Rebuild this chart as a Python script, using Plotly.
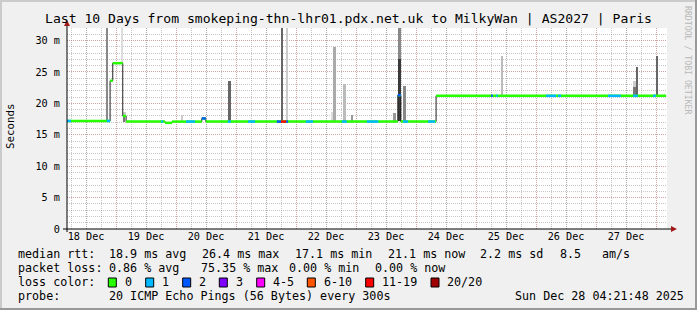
import plotly.graph_objects as go
import pandas as pd

# ---------------- data ----------------
t_start = "2025-12-18 04:21:48"
t_end = "2025-12-28 04:21:48"

# median rtt (ms) as step breakpoints
med_times = ["2025-12-18 04:22", "2025-12-18 21:36", "2025-12-18 22:40", "2025-12-19 02:40",
             "2025-12-19 04:00", "2025-12-19 19:36", "2025-12-19 22:24", "2025-12-20 10:17",
             "2025-12-20 11:53", "2025-12-23 16:41", "2025-12-23 17:53", "2025-12-24 08:00"]
med_values = [17.2, 23.6, 26.4, 18.0, 17.1, 16.9, 17.1, 17.6, 17.1, 21.3, 17.1, 21.2]
med_last = "2025-12-28 04:00"

# packet loss periods (loss class index into loss_names); everything else is 0
loss_start = ["2025-12-18 04:22", "2025-12-18 20:17", "2025-12-19 18:00", "2025-12-20 04:00",
              "2025-12-20 10:17", "2025-12-20 20:41", "2025-12-21 04:48", "2025-12-21 16:17",
              "2025-12-21 18:00", "2025-12-21 20:00", "2025-12-22 03:53", "2025-12-22 18:17",
              "2025-12-23 04:17", "2025-12-23 16:41", "2025-12-23 18:48", "2025-12-24 04:48",
              "2025-12-25 06:00", "2025-12-25 08:00", "2025-12-26 04:00", "2025-12-26 08:48",
              "2025-12-27 04:48", "2025-12-27 14:48", "2025-12-27 22:48"]
loss_end = ["2025-12-18 06:00", "2025-12-18 21:36", "2025-12-19 18:48", "2025-12-20 07:36",
            "2025-12-20 11:53", "2025-12-20 21:53", "2025-12-21 07:36", "2025-12-21 18:00",
            "2025-12-21 20:00", "2025-12-21 20:48", "2025-12-22 06:48", "2025-12-22 20:17",
            "2025-12-23 08:55", "2025-12-23 17:53", "2025-12-23 20:48", "2025-12-24 07:36",
            "2025-12-25 06:41", "2025-12-25 08:41", "2025-12-26 08:00", "2025-12-26 10:00",
            "2025-12-27 09:53", "2025-12-27 16:41", "2025-12-27 23:53"]
loss_class = [1, 1, 1, 1, 2, 1, 1, 2, 6, 2, 1, 1, 1, 2, 1, 1, 2, 1, 1, 1, 1, 1, 1]

loss_names = ["0", "1", "2", "3", "4-5", "6-10", "11-19", "20/20"]
loss_colors = ["#26ff00", "#00b8ff", "#0059ff", "#7e00ff", "#ff00ff", "#ff5500", "#ff0000", "#a10000"]

# smoke (ping spread): start, end, low, high (ms), density level 1..10
smoke_start = ["2025-12-18 19:53", "2025-12-19 02:00", "2025-12-19 02:40", "2025-12-19 02:55",
               "2025-12-20 01:53", "2025-12-20 20:41", "2025-12-21 17:53", "2025-12-21 19:53",
               "2025-12-22 13:53", "2025-12-22 14:48", "2025-12-22 18:41", "2025-12-22 21:53",
               "2025-12-23 14:41", "2025-12-23 16:41", "2025-12-23 16:41", "2025-12-23 18:41",
               "2025-12-25 10:00", "2025-12-27 14:41", "2025-12-27 14:41", "2025-12-27 15:53",
               "2025-12-27 23:53"]
smoke_end = ["2025-12-18 20:41", "2025-12-19 02:55", "2025-12-19 03:36", "2025-12-19 03:55",
             "2025-12-20 02:41", "2025-12-20 21:53", "2025-12-21 18:48", "2025-12-21 20:48",
             "2025-12-22 14:48", "2025-12-22 16:00", "2025-12-22 19:53", "2025-12-22 22:48",
             "2025-12-23 15:53", "2025-12-23 18:00", "2025-12-23 18:00", "2025-12-23 20:00",
             "2025-12-25 10:41", "2025-12-27 15:53", "2025-12-27 15:53", "2025-12-27 16:41",
             "2025-12-28 00:41"]
smoke_low = [17.2, 26.4, 17.1, 18.0, 17.2, 17.2, 17.2, 17.2, 17.2, 17.2, 17.2, 17.2,
             17.2, 17.2, 17.2, 17.2, 21.2, 21.2, 21.2, 21.2, 21.2]
smoke_high = [32.0, 32.0, 18.0, 18.6, 18.2, 23.6, 32.0, 32.0, 18.6, 29.0, 23.1, 18.2,
              18.4, 32.0, 27.0, 22.8, 27.5, 23.6, 22.6, 25.8, 27.5]
smoke_level = [6, 1, 7, 2, 2, 8, 8, 2, 1, 4, 3, 5, 5, 6, 10, 6, 3, 2, 7, 8, 8]
smoke_palette = {1: "#dcdcdc", 2: "#cccccc", 3: "#bbbbbb", 4: "#aaaaaa", 5: "#999999",
                 6: "#888888", 7: "#777777", 8: "#666666", 9: "#555555", 10: "#3a3a3a"}

day_ticks = ["2025-12-18 12:00", "2025-12-19 12:00", "2025-12-20 12:00", "2025-12-21 12:00",
             "2025-12-22 12:00", "2025-12-23 12:00", "2025-12-24 12:00", "2025-12-25 12:00",
             "2025-12-26 12:00", "2025-12-27 12:00"]
day_labels = ["18 Dec", "19 Dec", "20 Dec", "21 Dec", "22 Dec", "23 Dec", "24 Dec", "25 Dec",
              "26 Dec", "27 Dec"]
y_ticks = [0, 5, 10, 15, 20, 25, 30]
y_labels = ["0", "5 m", "10 m", "15 m", "20 m", "25 m", "30 m"]

title = "Last 10 Days from smokeping-thn-lhr01.pdx.net.uk to MilkyWan | AS2027 | Paris"
stats_rtt = ["median rtt:", "18.9 ms avg", "26.4 ms max", "17.1 ms min", "21.1 ms now",
             "2.2 ms sd", "8.5", "am/s"]
stats_loss = ["packet loss:", "0.86 % avg", "75.35 % max", "0.00 % min", "0.00 % now"]
probe_text = ["probe:", "20 ICMP Echo Pings (56 Bytes) every 300s", "Sun Dec 28 04:21:48 2025"]

# ---------------- layout geometry ----------------
W, H = 697, 310
L, R, T, B = 67, 30, 28, 81
PW, PH = W - L - R, H - T - B
FONT = "DejaVu Sans Mono"


def px(x):
    return (x - L) / PW


def py(y):
    return (H - B - y) / PH


fig = go.Figure()

# smoke
s0 = pd.to_datetime(smoke_start)
s1 = pd.to_datetime(smoke_end)
centers = s0 + (s1 - s0) / 2
widths = [(b - a).total_seconds() * 1000 for a, b in zip(s0, s1)]
fig.add_trace(go.Bar(
    x=centers, y=[h - l for h, l in zip(smoke_high, smoke_low)], base=smoke_low,
    width=widths, marker=dict(color=[smoke_palette[v] for v in smoke_level], line=dict(width=0)),
    showlegend=False, hoverinfo="skip"))

# median black line
fig.add_trace(go.Scatter(
    x=med_times + [med_last], y=med_values + [med_values[-1]], mode="lines",
    line=dict(color="#202020", width=1, shape="hv"), showlegend=False, hoverinfo="skip"))

# median band: loss 0 colour, horizontal pieces only
bx, by = [], []
ends = med_times[1:] + [med_last]
for a, b, v in zip(med_times, ends, med_values):
    bx += [a, b, None]
    by += [v, v, None]
fig.add_trace(go.Scatter(x=bx, y=by, mode="lines", line=dict(color=loss_colors[0], width=2.5),
                         showlegend=False, hoverinfo="skip"))

mt = pd.to_datetime(med_times)


def median_at(t):
    t = pd.to_datetime(t)
    v = med_values[0]
    for tt, vv in zip(mt, med_values):
        if tt <= t:
            v = vv
    return v


for c in sorted(set(loss_class)):
    lx, ly = [], []
    for a, b, k in zip(loss_start, loss_end, loss_class):
        if k == c:
            v = median_at(a)
            lx += [a, b, None]
            ly += [v, v, None]
    fig.add_trace(go.Scatter(x=lx, y=ly, mode="lines", line=dict(color=loss_colors[c], width=2.5),
                             showlegend=False, hoverinfo="skip"))

# overlay axis carrying the midnight (major) grid
midnights = pd.date_range("2025-12-19", "2025-12-28", freq="D")
fig.add_trace(go.Scatter(x=[t_start], y=[None], xaxis="x2", showlegend=False, hoverinfo="skip"))

GRID = "rgba(143,143,143,0.5)"
MGRID = "rgba(225,90,90,0.32)"
DOT = "1px,1px"

fig.update_layout(
    width=W, height=H, margin=dict(l=L, r=R, t=T, b=B),
    paper_bgcolor="#f0f0f0", plot_bgcolor="#ffffff", barmode="overlay", bargap=0,
    font=dict(family=FONT, color="#000000"),
    xaxis=dict(type="date", range=[t_start, t_end], tickvals=day_ticks, ticktext=day_labels,
               tickfont=dict(size=10.2, family=FONT), ticks="", showgrid=True, gridcolor=GRID,
               griddash=DOT, gridwidth=1, zeroline=False, showline=False,
               minor=dict(dtick=6 * 3600 * 1000, tick0="2025-12-18 00:00", showgrid=True,
                          gridcolor=GRID, griddash=DOT, gridwidth=1)),
    xaxis2=dict(type="date", range=[t_start, t_end], overlaying="x", anchor="y",
                tickvals=list(midnights), showticklabels=False, ticks="", showgrid=True,
                gridcolor=MGRID, griddash=DOT, gridwidth=1, zeroline=False, showline=False),
    yaxis=dict(range=[0, 32], tickvals=y_ticks, ticktext=y_labels,
               tickfont=dict(size=10.2, family=FONT), ticks="outside", ticklen=4,
               tickcolor="rgba(0,0,0,0)", showgrid=True, gridcolor=MGRID, griddash=DOT,
               zeroline=False, showline=False,
               minor=dict(dtick=1, showgrid=True, gridcolor=GRID, griddash=DOT, gridwidth=1)),
)

shapes = []
# frame shading
shapes.append(dict(type="rect", xref="paper", yref="paper", x0=px(0), x1=px(W), y0=py(0), y1=py(2),
                   fillcolor="#cbcbcb", line=dict(width=0), layer="above"))
shapes.append(dict(type="rect", xref="paper", yref="paper", x0=px(0), x1=px(2), y0=py(0), y1=py(H),
                   fillcolor="#cbcbcb", line=dict(width=0), layer="above"))
shapes.append(dict(type="rect", xref="paper", yref="paper", x0=px(W - 2), x1=px(W), y0=py(0), y1=py(H),
                   fillcolor="#999999", line=dict(width=0), layer="above"))
shapes.append(dict(type="rect", xref="paper", yref="paper", x0=px(0), x1=px(W), y0=py(H - 2), y1=py(H),
                   fillcolor="#999999", line=dict(width=0), layer="above"))
# axes
shapes.append(dict(type="line", xref="paper", yref="paper", x0=px(67), x1=px(67), y0=py(232), y1=py(22),
                   line=dict(color="#000000", width=1), layer="above"))
shapes.append(dict(type="line", xref="paper", yref="paper", x0=px(63), x1=px(672), y0=py(229), y1=py(229),
                   line=dict(color="#000000", width=1), layer="above"))
shapes.append(dict(type="path", xref="paper", yref="paper",
                   path=f"M {px(64)} {py(26)} L {px(70)} {py(26)} L {px(67)} {py(20)} Z",
                   fillcolor="#a01818", line=dict(width=0), layer="above"))
shapes.append(dict(type="path", xref="paper", yref="paper",
                   path=f"M {px(671)} {py(226)} L {px(671)} {py(232)} L {px(677)} {py(229)} Z",
                   fillcolor="#a01818", line=dict(width=0), layer="above"))

ann = []
ann.append(dict(text=title, x=px(348), y=py(18), xref="paper", yref="paper", showarrow=False,
                xanchor="center", yanchor="middle", font=dict(family=FONT, size=13.1, color="#000")))
ann.append(dict(text="RRDTOOL / TOBI OETIKER", x=px(688), y=py(60), xref="paper", yref="paper",
                showarrow=False, textangle=90, xanchor="center", yanchor="middle",
                font=dict(family=FONT, size=8.2, color="#b8b8b8")))
ann.append(dict(text="Seconds", x=px(10), y=py(126), xref="paper", yref="paper", showarrow=False,
                textangle=-90, xanchor="center", yanchor="middle",
                font=dict(family=FONT, size=10.8, color="#000")))

LF = dict(family=FONT, size=11.7, color="#000")
rows_y = [254, 268, 282, 296]
rtt_x = [16, 107, 200, 292.5, 386, 478, 558, 600]
for t, x in zip(stats_rtt, rtt_x):
    ann.append(dict(text=t, x=px(x), y=py(rows_y[0]), xref="paper", yref="paper", showarrow=False,
                    xanchor="left", yanchor="middle", font=LF))
loss_x = [16, 107, 199, 286.5, 372.5]
for t, x in zip(stats_loss, loss_x):
    ann.append(dict(text=t, x=px(x), y=py(rows_y[1]), xref="paper", yref="paper", showarrow=False,
                    xanchor="left", yanchor="middle", font=LF))
ann.append(dict(text="loss color:", x=px(16), y=py(rows_y[2]), xref="paper", yref="paper",
                showarrow=False, xanchor="left", yanchor="middle", font=LF))
box_x = [108.3, 145.7, 182.7, 219.3, 256.7, 307.3, 365.7, 431]
for name, col, x in zip(loss_names, loss_colors, box_x):
    shapes.append(dict(type="rect", xref="paper", yref="paper", x0=px(x), x1=px(x + 8),
                       y0=py(287), y1=py(278), fillcolor=col, line=dict(color="#000", width=1),
                       layer="above"))
    ann.append(dict(text=name, x=px(x + 14.3), y=py(rows_y[2]), xref="paper", yref="paper",
                    showarrow=False, xanchor="left", yanchor="middle", font=LF))
probe_x = [16, 107, 513]
for t, x in zip(probe_text, probe_x):
    ann.append(dict(text=t, x=px(x), y=py(rows_y[3]), xref="paper", yref="paper", showarrow=False,
                    xanchor="left", yanchor="middle", font=LF))

fig.update_layout(shapes=shapes, annotations=ann)
fig.write_html("out.html")
